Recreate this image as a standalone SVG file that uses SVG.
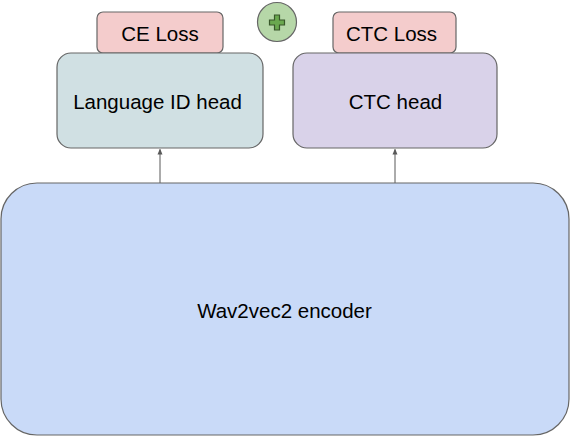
<svg xmlns="http://www.w3.org/2000/svg" width="570" height="436" viewBox="0 0 570 436">
<defs>
<style>
.box{stroke:#666666;stroke-width:1.2}
.t{font-family:"Liberation Sans",Arial,sans-serif;font-size:20.5px;fill:#000;text-anchor:middle;dominant-baseline:central}
.c{stroke:#595959;stroke-width:1;fill:none}
</style>
<marker id="ah" markerWidth="6" markerHeight="6" refX="5" refY="3" orient="auto" markerUnits="userSpaceOnUse">
<path d="M0,0.5 L6,3 L0,5.5 Z" fill="#595959"/>
</marker>
</defs>
<rect width="570" height="436" fill="#ffffff"/>
<g id="connectors">
<line class="c" x1="160" y1="183" x2="160" y2="149.5" marker-end="url(#ah)"/>
<line class="c" x1="395" y1="183" x2="395" y2="149.5" marker-end="url(#ah)"/>
</g>
<g id="encoder">
<rect class="box" x="1" y="183" width="568" height="252" rx="36" ry="36" fill="#c9daf8"/>
<text class="t" x="284.5" y="310">Wav2vec2 encoder</text>
</g>
<g id="ce-loss">
<rect class="box" x="97" y="12" width="126" height="41" rx="6" ry="6" fill="#f4cccc"/>
<text class="t" x="160" y="33">CE Loss</text>
</g>
<g id="ctc-loss">
<rect class="box" x="333" y="12" width="123" height="41" rx="6" ry="6" fill="#f4cccc"/>
<text class="t" x="391.5" y="33">CTC Loss</text>
</g>
<g id="lang-head">
<rect class="box" x="57" y="53" width="206" height="95" rx="14" ry="14" fill="#d0e0e3"/>
<text class="t" x="157.5" y="101">Language ID head</text>
</g>
<g id="ctc-head">
<rect class="box" x="293" y="53" width="204" height="95" rx="14" ry="14" fill="#d9d2e9"/>
<text class="t" x="395.5" y="101">CTC head</text>
</g>
<g id="plus">
<circle cx="277" cy="22" r="19.5" fill="#b6d7a8" stroke="#666666" stroke-width="1.2"/>
<path d="M274.5,15 h5 v5 h5 v5 h-5 v5 h-5 v-5 h-5 v-5 h5 Z" fill="#6aa84f" stroke="#38572a" stroke-width="1.2"/>
</g>
</svg>
